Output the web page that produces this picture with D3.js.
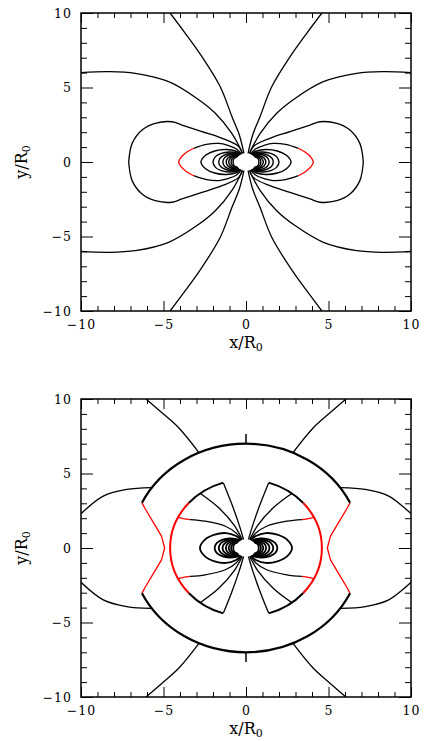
<!DOCTYPE html>
<html lang="en">
<head>
<meta charset="UTF-8">
<title>Field lines</title>
<style>
  body { margin: 0; background: #fff; }
  svg text { font-family: "DejaVu Serif", serif; fill: #000; }
  .tick text { font-size: 12.5px; letter-spacing: 1px; }
  .tick line { stroke: #000; stroke-width: 1px; }
  .fl { fill: none; stroke: #000; stroke-width: 1.3px; stroke-linejoin: round; }
  .red { stroke: #f00; }
  .title { font-size: 16px; text-anchor: middle; }
</style>
</head>
<body>
<div id="chart"></div>
<script src="https://d3js.org/d3.v7.min.js"></script>
<script>
  // tick values
  var majorTicks = [-10, -5, 0, 5, 10];
  var minorTicks = [-9, -8, -7, -6, -4, -3, -2, -1, 1, 2, 3, 4, 6, 7, 8, 9];

  var starRadius = 0.6;

  // ---- top panel, first quadrant only (picture is symmetric) ----
  var topOpenLines = [
    [[0.1, 0.45], [0.4, 1.8], [0.85, 3.04], [1.56, 5.05], [2.67, 7.07], [3.68, 8.64], [4.6, 10]],
    [[0.15, 0.45], [0.85, 1.9], [1.86, 3.27], [2.95, 4.25], [4.69, 5.39], [6.71, 5.95], [8.32, 6.06], [10, 6.0]],
    // outer closed loop with the kink
    [[0.2, 0.45], [0.44, 1.03], [1.45, 1.59], [2.67, 2.04], [3.88, 2.48], [4.48, 2.7], [5.5, 2.6], [6.3, 2.15], [6.9, 1.25], [7.11, 0]],
    // black part of the loop with the red tip
    [[0.22, 0.45], [0.55, 0.85], [1.1, 1.12], [1.65, 1.25], [2.4, 1.18], [3.17, 0.92]]
  ];
  var topRedTips = [
    [[3.17, 0.92], [3.6, 0.65], [3.95, 0.3], [4.08, 0]]
  ];
  var topLoops = [
    [[0.25, 0.48], [0.6, 0.72], [1.2, 0.84], [1.9, 0.74], [2.45, 0.45], [2.73, 0]],
    [[0.3, 0.47], [0.6, 0.62], [1.0, 0.67], [1.5, 0.58], [1.85, 0.36], [2.0, 0]],
    [[0.33, 0.46], [0.6, 0.56], [1.0, 0.57], [1.35, 0.45], [1.58, 0.24], [1.65, 0]],
    [[0.36, 0.45], [0.6, 0.51], [0.9, 0.5], [1.2, 0.38], [1.35, 0.2], [1.4, 0]],
    [[0.4, 0.43], [0.6, 0.46], [0.85, 0.42], [1.1, 0.27], [1.2, 0]],
    [[0.44, 0.41], [0.6, 0.42], [0.8, 0.37], [0.97, 0.22], [1.05, 0]],
    [[0.48, 0.38], [0.6, 0.37], [0.75, 0.31], [0.86, 0.18], [0.9, 0]],
    [[0.52, 0.34], [0.62, 0.32], [0.72, 0.24], [0.77, 0.12], [0.78, 0]]
  ];

  // ---- bottom panel, first quadrant ----
  var botInnerLines = [
    [[0.12, 0.45], [0.4, 1.5], [0.85, 2.92], [1.37, 4.37]],
    [[0.18, 0.45], [0.7, 1.5], [1.65, 2.7], [2.77, 3.66]],
    [[0.22, 0.45], [0.6, 1.0], [1.25, 1.46], [2.47, 1.8], [3.39, 1.91]]
  ];
  var botInnerRed = [
    [[3.39, 1.91], [3.8, 1.97], [4.1, 2.05]]
  ];
  var botOuterLines = [
    [[5.75, 4.05], [7.23, 3.93], [8.65, 3.48], [10, 2.3]],
    [[2.85, 6.4], [4.08, 8.07], [5.09, 9.07], [6.06, 10]]
  ];
  var botZigzag = [[6.3, 3.03], [6.12, 2.65], [5.6, 1.69], [5.12, 0.8], [4.93, 0]];
  var botLoops = [
    [[0.25, 0.48], [0.6, 0.8], [1.2, 1.0], [1.9, 0.9], [2.5, 0.55], [2.79, 0]],
    [[0.3, 0.47], [0.6, 0.6], [1.0, 0.64], [1.45, 0.55], [1.78, 0.33], [1.9, 0]],
    [[0.33, 0.46], [0.6, 0.56], [1.0, 0.57], [1.35, 0.45], [1.58, 0.24], [1.65, 0]],
    [[0.36, 0.45], [0.6, 0.51], [0.9, 0.5], [1.2, 0.38], [1.37, 0.2], [1.42, 0]],
    [[0.4, 0.43], [0.6, 0.46], [0.85, 0.42], [1.12, 0.27], [1.22, 0]],
    [[0.44, 0.41], [0.6, 0.42], [0.8, 0.37], [0.97, 0.22], [1.05, 0]],
    [[0.48, 0.38], [0.6, 0.37], [0.75, 0.31], [0.86, 0.18], [0.9, 0]],
    [[0.52, 0.34], [0.62, 0.32], [0.72, 0.24], [0.76, 0.12], [0.77, 0]]
  ];
  // shells (radius, arcs in degrees)
  var outerRadius = 7;
  var outerArcs = [[25.7, 154.3], [205.7, 334.3]];
  var innerRadius = 4.6;
  var innerBlackArcs = [[41, 72.6], [107.4, 139], [221, 252.6], [287.4, 319]];
  var innerRedArcs = [[-41, 41], [139, 221]];
  var poleTicks = [[[0, 7], [0, 7.65]], [[0, -7], [0, -7.65]]];

  // mirror helpers
  function flipX(pts) { return pts.map(function(p) { return [-p[0], p[1]]; }); }
  function flipY(pts) { return pts.map(function(p) { return [p[0], -p[1]]; }); }
  function fourWays(pts) { return [pts, flipX(pts), flipY(pts), flipX(flipY(pts))]; }
  function halfLoop(q) { return q.concat(flipY(q).reverse().slice(1)); }
  function bothSides(pts) { return [pts, flipX(pts)]; }

  var svg = d3.select("#chart").append("svg")
    .attr("width", 424)
    .attr("height", 741);

  function panel(top, bottom, draw, id) {
    var x = d3.scaleLinear().domain([-10, 10]).range([81, 411]);
    var y = d3.scaleLinear().domain([-10, 10]).range([bottom, top]);
    var g = svg.append("g");

    g.append("clipPath").attr("id", id)
      .append("rect")
      .attr("x", x(-10)).attr("y", y(10))
      .attr("width", x(10) - x(-10)).attr("height", y(-10) - y(10));

    var plot = g.append("g").attr("clip-path", "url(#" + id + ")");
    var smooth = d3.line().x(function(d) { return x(d[0]); }).y(function(d) { return y(d[1]); })
      .curve(d3.curveCatmullRom.alpha(0.5));
    var straight = d3.line().x(function(d) { return x(d[0]); }).y(function(d) { return y(d[1]); });

    draw(plot, x, y, smooth, straight);

    // star
    plot.append("ellipse")
      .attr("cx", x(0)).attr("cy", y(0))
      .attr("rx", x(starRadius) - x(0)).attr("ry", y(0) - y(starRadius))
      .attr("fill", "#fff");

    // axes, ticks pointing inward
    function noDomain(a) { a.select(".domain").remove(); }
    g.append("g").attr("transform", "translate(0," + y(-10) + ")")
      .call(d3.axisBottom(x).tickValues(majorTicks).tickSizeInner(-10).tickSizeOuter(0).tickPadding(9)).call(noDomain);
    g.append("g").attr("transform", "translate(0," + y(-10) + ")")
      .call(d3.axisBottom(x).tickValues(minorTicks).tickSizeInner(-5).tickSizeOuter(0).tickFormat("")).call(noDomain);
    g.append("g").attr("transform", "translate(0," + y(10) + ")")
      .call(d3.axisTop(x).tickValues(majorTicks).tickSizeInner(-10).tickSizeOuter(0).tickFormat("")).call(noDomain);
    g.append("g").attr("transform", "translate(0," + y(10) + ")")
      .call(d3.axisTop(x).tickValues(minorTicks).tickSizeInner(-5).tickSizeOuter(0).tickFormat("")).call(noDomain);
    g.append("g").attr("transform", "translate(" + x(-10) + ",0)")
      .call(d3.axisLeft(y).tickValues(majorTicks).tickSizeInner(-12).tickSizeOuter(0).tickPadding(9)).call(noDomain);
    g.append("g").attr("transform", "translate(" + x(-10) + ",0)")
      .call(d3.axisLeft(y).tickValues(minorTicks).tickSizeInner(-6).tickSizeOuter(0).tickFormat("")).call(noDomain);
    g.append("g").attr("transform", "translate(" + x(10) + ",0)")
      .call(d3.axisRight(y).tickValues(majorTicks).tickSizeInner(-12).tickSizeOuter(0).tickFormat("")).call(noDomain);
    g.append("g").attr("transform", "translate(" + x(10) + ",0)")
      .call(d3.axisRight(y).tickValues(minorTicks).tickSizeInner(-6).tickSizeOuter(0).tickFormat("")).call(noDomain);
    g.selectAll(".tick text").attr("fill", "#000");

    g.append("rect")
      .attr("x", x(-10)).attr("y", y(10))
      .attr("width", x(10) - x(-10)).attr("height", y(-10) - y(10))
      .attr("fill", "none").attr("stroke", "#000").attr("stroke-width", 1.5);

    // axis titles
    var xt = g.append("text").attr("class", "title")
      .attr("x", x(0)).attr("y", y(-10) + 37);
    xt.append("tspan").text("x/R");
    xt.append("tspan").attr("font-size", "11px").attr("dy", "0.3em").text("0");

    var yt = g.append("text").attr("class", "title")
      .attr("transform", "translate(27," + y(0) + ") rotate(-90)");
    yt.append("tspan").text("y/R");
    yt.append("tspan").attr("font-size", "11px").attr("dy", "0.3em").text("0");
  }

  function drawTop(plot, x, y, smooth) {
    topOpenLines.forEach(function(q) {
      fourWays(q).forEach(function(p) {
        plot.append("path").attr("class", "fl").attr("d", smooth(p));
      });
    });
    topLoops.forEach(function(q) {
      bothSides(halfLoop(q)).forEach(function(p) {
        plot.append("path").attr("class", "fl").style("stroke-width", "1.4px").attr("d", smooth(p));
      });
    });
    topRedTips.forEach(function(q) {
      bothSides(halfLoop(q)).forEach(function(p) {
        plot.append("path").attr("class", "fl red").attr("d", smooth(p));
      });
    });
  }

  function drawBottom(plot, x, y, smooth, straight) {
    function arcPath(r, a) {
      var rx = x(r) - x(0), ry = y(0) - y(r);
      var a1 = a[0] * Math.PI / 180, a2 = a[1] * Math.PI / 180;
      var large = (a[1] - a[0]) > 180 ? 1 : 0;
      return "M" + x(r * Math.cos(a1)) + "," + y(r * Math.sin(a1)) +
        "A" + rx + "," + ry + " 0 " + large + " 0 " + x(r * Math.cos(a2)) + "," + y(r * Math.sin(a2));
    }
    botLoops.forEach(function(q) {
      bothSides(halfLoop(q)).forEach(function(p) {
        plot.append("path").attr("class", "fl").style("stroke-width", "1.8px").attr("d", smooth(p));
      });
    });
    botInnerLines.concat(botOuterLines).forEach(function(q) {
      fourWays(q).forEach(function(p) {
        plot.append("path").attr("class", "fl").attr("d", smooth(p));
      });
    });
    botInnerRed.forEach(function(q) {
      fourWays(q).forEach(function(p) {
        plot.append("path").attr("class", "fl red").attr("d", smooth(p));
      });
    });
    bothSides(halfLoop(botZigzag)).forEach(function(p) {
      plot.append("path").attr("class", "fl red").attr("d", straight(p));
    });
    innerBlackArcs.forEach(function(a) {
      plot.append("path").attr("class", "fl").style("stroke-width", "2px").attr("d", arcPath(innerRadius, a));
    });
    innerRedArcs.forEach(function(a) {
      plot.append("path").attr("class", "fl red").style("stroke-width", "2px").attr("d", arcPath(innerRadius, a));
    });
    outerArcs.forEach(function(a) {
      plot.append("path").attr("class", "fl").style("stroke-width", "2.2px").attr("d", arcPath(outerRadius, a));
    });
    poleTicks.forEach(function(p) {
      plot.append("path").attr("class", "fl").style("stroke-width", "1.5px").attr("d", straight(p));
    });
  }

  panel(13, 311, drawTop, "clipTop");
  panel(399, 697, drawBottom, "clipBot");
</script>
</body>
</html>
